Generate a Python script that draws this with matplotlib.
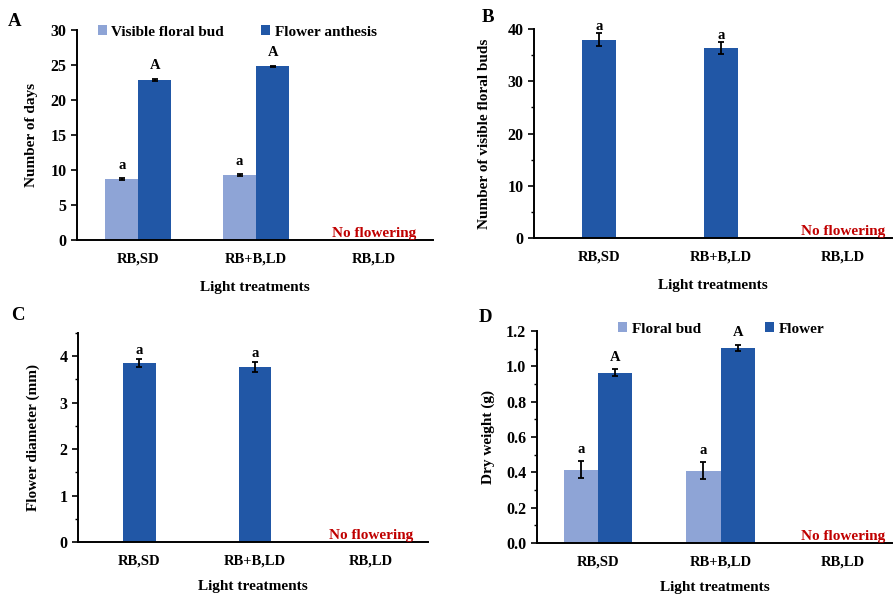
import matplotlib

matplotlib.use("Agg")
import matplotlib.pyplot as plt
import numpy as np
from matplotlib.ticker import MultipleLocator

# ---- data ----------------------------------------------------------------
TREATMENTS = ["RB,SD", "RB+B,LD", "RB,LD"]

# A: number of days
DAYS_BUD = [8.7, 9.3]
DAYS_BUD_ERR = [0.12, 0.12]
DAYS_ANTH = [22.9, 24.8]
DAYS_ANTH_ERR = [0.15, 0.12]

# B: number of visible floral buds
N_BUDS = [38.0, 36.4]
N_BUDS_ERR = [1.2, 1.1]

# C: flower diameter (mm)
DIAM = [3.85, 3.77]
DIAM_ERR = [0.09, 0.10]

# D: dry weight (g)
DW_BUD = [0.415, 0.41]
DW_BUD_ERR = [0.047, 0.047]
DW_FLOWER = [0.965, 1.105]
DW_FLOWER_ERR = [0.018, 0.018]

LIGHT = "#8EA4D6"
DARK = "#2157A6"
RED = "#C00000"
W = 0.28

plt.rcParams.update({
    "font.family": ["Liberation Serif", "DejaVu Serif"],
    "font.weight": "bold",
    "axes.labelweight": "bold",
    "font.size": 10,
    "axes.linewidth": 1.4,
})

fig = plt.figure(figsize=(8.93, 5.96), dpi=100)
axA = fig.add_axes([0.0862, 0.5973, 0.3987, 0.3524])
axB = fig.add_axes([0.598, 0.6007, 0.401, 0.3503])
axC = fig.add_axes([0.0873, 0.0906, 0.3917, 0.3507])
axD = fig.add_axes([0.601, 0.0889, 0.398, 0.3557])

err_kw = dict(ecolor="black", elinewidth=1.3, capsize=2.5, capthick=1.3)


def style(ax, xlim, ylim, major, minor, fmt=None, xlabelpad=11):
    ax.set_xlim(*xlim)
    ax.set_ylim(*ylim)
    ax.spines["top"].set_visible(False)
    ax.spines["right"].set_visible(False)
    ax.yaxis.set_major_locator(MultipleLocator(major))
    ax.yaxis.set_minor_locator(MultipleLocator(minor))
    ax.tick_params(axis="y", which="major", length=4, width=1.2, labelsize=11.5)
    ax.tick_params(axis="y", which="minor", length=2.5, width=1.0)
    ax.tick_params(axis="x", length=0, labelsize=10.5, pad=9)
    ax.set_xticks(range(len(TREATMENTS)))
    ax.set_xticklabels(TREATMENTS)
    ax.set_xlabel("Light treatments", fontsize=11, labelpad=xlabelpad)
    if fmt:
        ax.yaxis.set_major_formatter(fmt)
    ax.text(2, 0, "No flowering", color=RED, ha="center", va="bottom",
            fontsize=11, fontweight="bold")


def letters(ax, xs, tops, lab, off):
    for x, t in zip(xs, tops):
        ax.text(x, t + off, lab, ha="center", va="bottom", fontsize=10.5)


x2 = np.arange(2)

# ---- A -------------------------------------------------------------------
axA.bar(x2 - W / 2, DAYS_BUD, W, color=LIGHT, yerr=DAYS_BUD_ERR, error_kw=err_kw,
        label="Visible floral bud")
axA.bar(x2 + W / 2, DAYS_ANTH, W, color=DARK, yerr=DAYS_ANTH_ERR, error_kw=err_kw,
        label="Flower anthesis")
letters(axA, x2 - W / 2, np.add(DAYS_BUD, DAYS_BUD_ERR), "a", 0.9)
letters(axA, x2 + W / 2, np.add(DAYS_ANTH, DAYS_ANTH_ERR), "A", 0.9)
style(axA, (-0.52, 2.5), (0, 30), 5, 5)
axA.set_ylabel("Number of days", fontsize=11, labelpad=9)
axA.legend(loc="lower center", bbox_to_anchor=(0.45, 0.93), ncol=2, frameon=False,
           handlelength=0.6, handleheight=0.6, handletextpad=0.3, columnspacing=2.4,
           fontsize=11, borderaxespad=0)

# ---- B -------------------------------------------------------------------
axB.bar(x2, N_BUDS, W, color=DARK, yerr=N_BUDS_ERR, error_kw=err_kw)
letters(axB, x2, np.add(N_BUDS, N_BUDS_ERR), "a", 0.1)
style(axB, (-0.53, 2.4), (0, 40), 10, 5)
axB.set_ylabel("Number of visible floral buds", fontsize=11, labelpad=12)

# ---- C -------------------------------------------------------------------
axC.bar(x2, DIAM, W, color=DARK, yerr=DIAM_ERR, error_kw=err_kw)
letters(axC, x2, np.add(DIAM, DIAM_ERR), "a", 0.05)
style(axC, (-0.53, 2.49), (0, 4.5), 1, 0.5, xlabelpad=9)
axC.set_ylabel("Flower diameter (mm)", fontsize=11, labelpad=14)

# ---- D -------------------------------------------------------------------
axD.bar(x2 - W / 2, DW_BUD, W, color=LIGHT, yerr=DW_BUD_ERR, error_kw=err_kw,
        label="Floral bud")
axD.bar(x2 + W / 2, DW_FLOWER, W, color=DARK, yerr=DW_FLOWER_ERR, error_kw=err_kw,
        label="Flower")
letters(axD, x2 - W / 2, np.add(DW_BUD, DW_BUD_ERR), "a", 0.03)
letters(axD, x2 + W / 2, np.add(DW_FLOWER, DW_FLOWER_ERR), "A", 0.03)
style(axD, (-0.5, 2.4), (0, 1.2), 0.2, 0.1,
      fmt=matplotlib.ticker.FormatStrFormatter("%.1f"), xlabelpad=9)
axD.set_ylabel("Dry weight (g)", fontsize=11, labelpad=8)
axD.legend(loc="lower center", bbox_to_anchor=(0.52, 0.95), ncol=2, frameon=False,
           handlelength=0.6, handleheight=0.6, handletextpad=0.3, columnspacing=4.2,
           fontsize=11, borderaxespad=0)

# panel letters
for lab, (px, py) in {"A": (15, 22), "B": (488, 18), "C": (18, 315), "D": (485, 317)}.items():
    fig.text(px / 893, 1 - py / 596, lab, fontsize=13.5, fontweight="bold",
             ha="center", va="center")

fig.savefig("out.png", dpi=100)
